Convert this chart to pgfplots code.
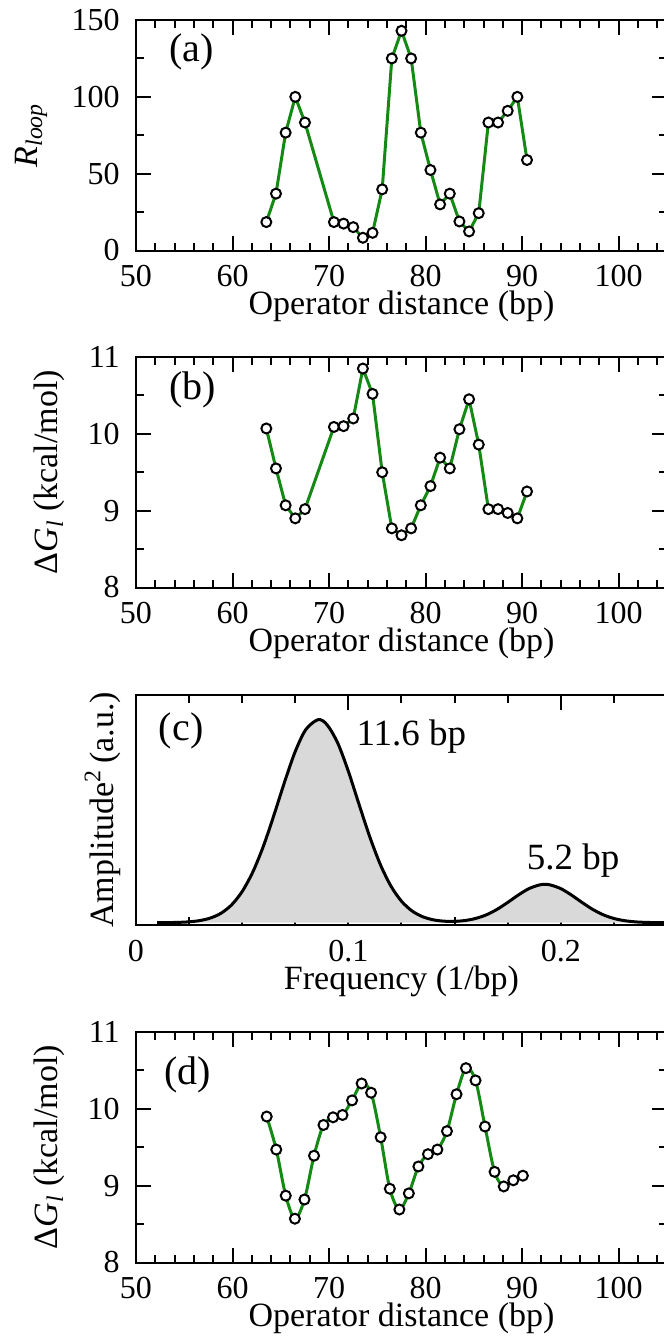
\documentclass[border=0pt]{standalone}
\usepackage{fontspec}
\setmainfont{Liberation Serif}
\usepackage{pgfplots}
\usepackage{pgfplotstable}
\pgfplotsset{compat=1.18}
\definecolor{lgreen}{RGB}{20,138,20}
\definecolor{lgray}{RGB}{217,217,217}
\tikzset{plab/.style={anchor=base west, font=\fontsize{20}{24}\selectfont}}
\pgfplotsset{
  panel/.style={
    width=265.5pt, height=115.25pt, scale only axis,
    axis line style={line width=1pt},
    every tick/.style={line width=1pt, black},
    major tick length=7.5pt, minor tick length=4pt,
    tick align=inside,
    xtick pos=both, ytick pos=both,
    /pgf/number format/assume math mode=true,
    tick label style={font=\fontsize{16}{18}\selectfont},
    xticklabel style={anchor=base, yshift=-18pt, inner sep=0pt},
    yticklabel style={anchor=east, inner sep=0pt, xshift=-8pt},
    label style={font=\fontsize{17}{20}\selectfont},
    xlabel style={at={(axis description cs:0.5,0)}, anchor=base, yshift=-32pt, inner sep=0pt},
  },
  dist/.style={panel, xmin=50, xmax=105, xtick={50,60,...,100},
    minor xtick={52,54,...,104},
    xlabel={Operator distance (bp)}},
  dg/.style={dist, ymin=8, ymax=11, ytick={8,9,10,11}, minor ytick={8.5,9.5,10.5},
    ylabel={Δ\textit{G}\textsubscript{\textit{l}} (kcal/mol)},
    ylabel style={at={(axis description cs:-0.1469,0.5)}, anchor=base}},
  gline/.style={lgreen, line width=1.5pt, mark=*, mark size=2.5pt,
    mark options={fill=white, draw=black, line width=1pt, solid}},
}
\pgfplotstableread{
f a
0.010 0.0002
0.015 0.0006
0.020 0.0016
0.025 0.0040
0.030 0.0094
0.035 0.0205
0.040 0.0415
0.045 0.0782
0.050 0.137
0.055 0.2225
0.060 0.336
0.065 0.473
0.070 0.618
0.075 0.751
0.080 0.847
0.0858 0.890
0.090 0.867
0.095 0.787
0.100 0.663
0.105 0.519
0.110 0.378
0.115 0.256
0.120 0.161
0.125 0.0943
0.130 0.0513
0.135 0.0262
0.140 0.0127
0.145 0.0068
0.150 0.0061
0.155 0.0098
0.160 0.019
0.165 0.0348
0.170 0.0586
0.175 0.0889
0.180 0.1214
0.185 0.1495
0.190 0.1658
0.1925 0.168
0.195 0.1658
0.200 0.1495
0.205 0.1214
0.210 0.0889
0.215 0.0586
0.220 0.0348
0.225 0.0187
0.230 0.0090
0.235 0.0039
0.240 0.0015
0.245 0.0005
0.250 0.0002
}\spec
\begin{document}
\begin{tikzpicture}
% (a)
\begin{axis}[dist, at={(0,0)}, anchor=north west,
  ymin=0, ymax=150, ytick={0,50,100,150}, minor ytick={25,75,125},
  ylabel={\textit{R}\textsubscript{\textit{loop}}},
  ylabel style={at={(axis description cs:-0.1864,0.5)}, anchor=base}]
\addplot[gline] coordinates {
(63.5,18.5) (64.5,37) (65.5,76.7) (66.5,100) (67.5,83.3)
(70.5,18.5) (71.5,17.5) (72.5,15.2) (73.5,8.3) (74.5,11.5)
(75.5,39.8) (76.5,125) (77.5,143) (78.5,125) (79.5,76.7)
(80.5,52.4) (81.5,30) (82.5,37) (83.5,18.9) (84.5,12.4)
(85.5,24.3) (86.5,83.3) (87.5,83.3) (88.5,90.9) (89.5,100) (90.5,58.9)};
\node[plab] at (rel axis cs:0.049,0.82) {(a)};
\end{axis}
% (b)
\begin{axis}[dg, at={(0,-168.5pt)}, anchor=north west]
\addplot[gline] coordinates {
(63.5,10.07) (64.5,9.55) (65.5,9.07) (66.5,8.90) (67.5,9.02)
(70.5,10.09) (71.5,10.10) (72.5,10.20) (73.5,10.85) (74.5,10.52)
(75.5,9.50) (76.5,8.77) (77.5,8.68) (78.5,8.77) (79.5,9.07)
(80.5,9.32) (81.5,9.69) (82.5,9.55) (83.5,10.06) (84.5,10.45)
(85.5,9.86) (86.5,9.02) (87.5,9.02) (88.5,8.97) (89.5,8.90) (90.5,9.25)};
\node[plab] at (rel axis cs:0.049,0.816) {(b)};
\end{axis}
% (c)
\begin{axis}[panel, at={(0,-337.25pt)}, anchor=north west,
  xmin=0, xmax=0.25, ymin=-0.01, ymax=1,
  xtick={0,0.1,0.2}, minor xtick={0.025,0.05,0.075,0.125,0.15,0.175,0.225},
  ytick=\empty,
  xlabel={Frequency (1/bp)},
  ylabel={Amplitude\textsuperscript{2}\,(a.u.)},
  ylabel style={at={(axis description cs:-0.0433,0.5)}, anchor=base}]
\addplot[fill=lgray, draw=none] table[x=f,y=a] {\spec} \closedcycle;
\addplot[black, line width=1.5pt, smooth] table[x=f,y=a] {\spec};
\node[anchor=base west, font=\fontsize{18.5}{22}\selectfont] at (axis cs:0.1005,0.775) {11.6 bp};
\node[anchor=base west, font=\fontsize{18.5}{22}\selectfont] at (axis cs:0.1807,0.235) {5.2 bp};
\node[plab] at (rel axis cs:0.030,0.80) {(c)};
\end{axis}
% (d)
\begin{axis}[dg, at={(0,-506pt)}, anchor=north west]
\addplot[gline, smooth, tension=0.5] coordinates {
(63.54,9.90) (64.53,9.47) (65.51,8.87) (66.46,8.57) (67.45,8.82)
(68.44,9.39) (69.42,9.79) (70.41,9.89) (71.39,9.92) (72.38,10.11)
(73.37,10.33) (74.35,10.21) (75.34,9.63) (76.29,8.96) (77.28,8.69)
(78.26,8.90) (79.25,9.25) (80.24,9.41) (81.22,9.47) (82.21,9.71)
(83.20,10.19) (84.18,10.53) (85.17,10.37) (86.15,9.77) (87.14,9.18)
(88.09,8.99) (89.08,9.07) (90.07,9.13)};
\node[plab] at (rel axis cs:0.040,0.774) {(d)};
\end{axis}
\pgfresetboundingbox
\path[use as bounding box] (-68pt,-660.5pt) rectangle (264pt,10pt);
\end{tikzpicture}
\end{document}
